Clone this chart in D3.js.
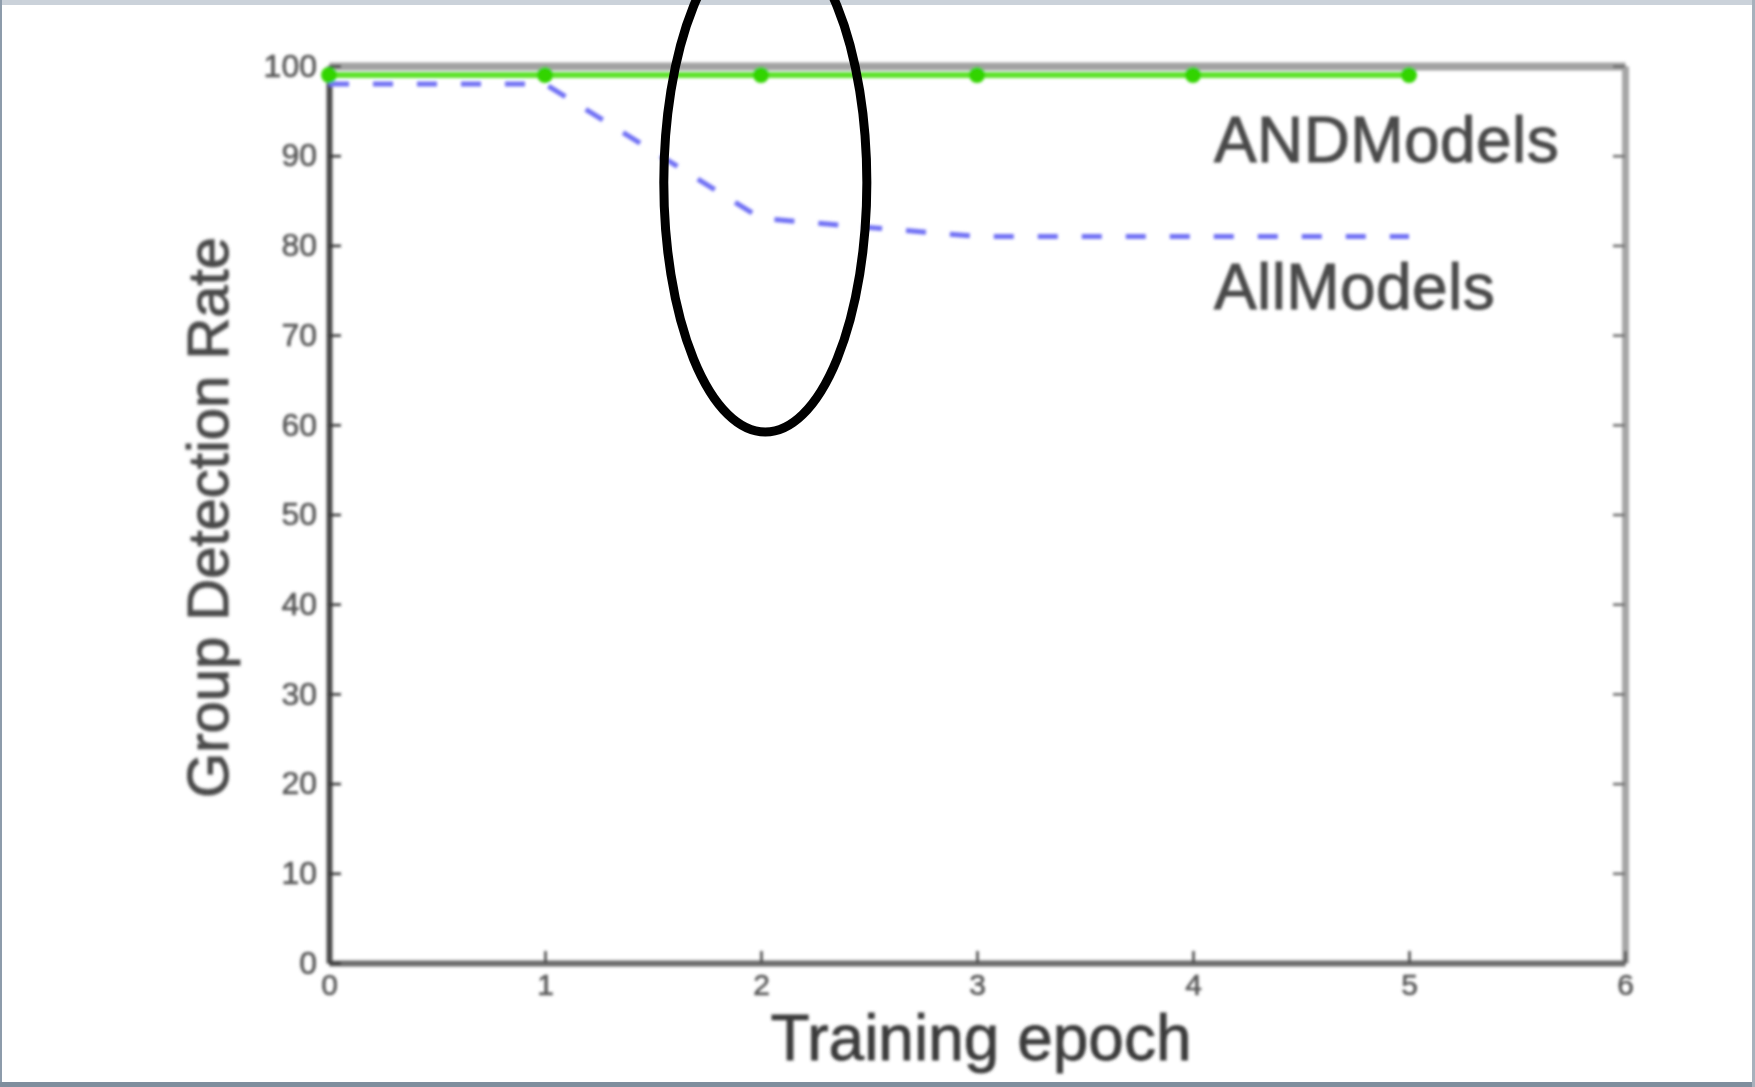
<!DOCTYPE html>
<html>
<head>
<meta charset="utf-8">
<script src="https://cdn.jsdelivr.net/npm/d3@7"></script>
<style>
  html, body { margin: 0; padding: 0; background: #fff; }
  svg { display: block; }
</style>
</head>
<body>
<script>
// epochs on the x axis
const epochs = [0, 1, 2, 3, 4, 5];
// group detection rate per epoch
const andModels = [99, 99, 99, 99, 99, 99];
const allModels = [98, 98, 83, 81, 81, 81];
const xTicks = [0, 1, 2, 3, 4, 5, 6];
const yTicks = [0, 10, 20, 30, 40, 50, 60, 70, 80, 90, 100];
// hand drawn ellipse around epoch 2, in data units
const mark = { cx: 2.02, cy: 87, rx: 0.47, ry: 27.8 };

function main() {
  const width = 1755;
  const height = 1087;
  const margin = { top: 66, right: 130, bottom: 124, left: 329 };

  const x = d3.scaleLinear()
    .domain([0, 6])
    .range([margin.left, width - margin.right]);

  const y = d3.scaleLinear()
    .domain([0, 100])
    .range([height - margin.bottom, margin.top]);

  const svg = d3.create("svg")
    .attr("width", width)
    .attr("height", height)
    .style("font-family", "'Liberation Sans', Arial, sans-serif");

  svg.append("defs").append("filter")
    .attr("id", "soft")
    .attr("x", "-5%").attr("y", "-5%")
    .attr("width", "110%").attr("height", "110%")
    .append("feGaussianBlur")
    .attr("stdDeviation", 1.8);

  // page frame
  svg.append("rect").attr("x", 0).attr("y", 0).attr("width", width).attr("height", 5).attr("fill", "#cbd2da");
  svg.append("rect").attr("x", 0).attr("y", 0).attr("width", 2).attr("height", height).attr("fill", "#8d9cab");
  svg.append("rect").attr("x", 0).attr("y", height - 5).attr("width", width).attr("height", 5).attr("fill", "#7f8e9d");
  svg.append("rect").attr("x", width - 3).attr("y", 0).attr("width", 3).attr("height", height).attr("fill", "#a7b1bc");

  const g = svg.append("g").attr("filter", "url(#soft)");

  // top + right box edges, ticks inward, no labels
  g.append("g")
    .attr("transform", `translate(0,${y(100)})`)
    .call(d3.axisTop(x).tickValues(xTicks).tickSizeInner(-12).tickSizeOuter(0).tickFormat(""))
    .call(a => a.select(".domain").attr("stroke", "#a2a2a2").attr("stroke-width", 8))
    .call(a => a.selectAll(".tick line").attr("stroke", "#888").attr("stroke-width", 2));

  g.append("g")
    .attr("transform", `translate(${x(6)},0)`)
    .call(d3.axisRight(y).tickValues(yTicks).tickSizeInner(-12).tickSizeOuter(0).tickFormat(""))
    .call(a => a.select(".domain").attr("stroke", "#a6a6a6").attr("stroke-width", 7))
    .call(a => a.selectAll(".tick line").attr("stroke", "#666").attr("stroke-width", 2.5));

  // bottom axis
  g.append("g")
    .attr("transform", `translate(0,${y(0)})`)
    .call(d3.axisBottom(x).tickValues(xTicks).tickSizeInner(-12).tickSizeOuter(0).tickPadding(11).tickFormat(d3.format("d")))
    .call(a => a.select(".domain").attr("stroke", "#6a6a6a").attr("stroke-width", 6))
    .call(a => a.selectAll(".tick line").attr("stroke", "#444").attr("stroke-width", 2.5))
    .call(a => a.selectAll(".tick text").attr("fill", "#555").attr("stroke", "#555").attr("stroke-width", 0.6)
      .attr("font-size", 30).attr("font-family", null));

  // left axis
  g.append("g")
    .attr("transform", `translate(${x(0)},0)`)
    .call(d3.axisLeft(y).tickValues(yTicks).tickSizeInner(-12).tickSizeOuter(0).tickPadding(12).tickFormat(d3.format("d")))
    .call(a => a.select(".domain").attr("stroke", "#4a4a4a").attr("stroke-width", 6))
    .call(a => a.selectAll(".tick line").attr("stroke", "#333").attr("stroke-width", 2.5))
    .call(a => a.selectAll(".tick text").attr("fill", "#555").attr("stroke", "#555").attr("stroke-width", 0.6)
      .attr("font-size", 32).attr("font-family", null));

  const line = d3.line()
    .x(d => x(d[0]))
    .y(d => y(d[1]));

  // AllModels, blue dashed
  g.append("path")
    .attr("d", line(d3.zip(epochs, allModels)))
    .attr("fill", "none")
    .attr("stroke", "#7070f4")
    .attr("stroke-width", 5)
    .attr("stroke-dasharray", "20 24");

  // ANDModels, green with dots
  g.append("path")
    .attr("d", line(d3.zip(epochs, andModels)))
    .attr("fill", "none")
    .attr("stroke", "#5fe22a")
    .attr("stroke-width", 6);

  g.append("g")
    .attr("fill", "#33d400")
    .selectAll("circle")
    .data(d3.zip(epochs, andModels))
    .join("circle")
    .attr("cx", d => x(d[0]))
    .attr("cy", d => y(d[1]))
    .attr("r", 8);

  // series labels
  g.append("text")
    .attr("x", 1214)
    .attr("y", 162)
    .attr("font-size", 64)
    .attr("fill", "#4a4a4a")
    .attr("stroke", "#4a4a4a")
    .attr("stroke-width", 1)
    .attr("letter-spacing", 0.4)
    .text("ANDModels");

  g.append("text")
    .attr("x", 1214)
    .attr("y", 309)
    .attr("font-size", 64)
    .attr("fill", "#4a4a4a")
    .attr("stroke", "#4a4a4a")
    .attr("stroke-width", 1)
    .attr("letter-spacing", 0.4)
    .text("AllModels");

  // axis titles
  g.append("text")
    .attr("x", (x(0) + x(6)) / 2 + 4)
    .attr("y", 1060)
    .attr("text-anchor", "middle")
    .attr("font-size", 64)
    .attr("fill", "#3a3a3a")
    .attr("stroke", "#3a3a3a")
    .attr("stroke-width", 0.8)
    .text("Training epoch");

  g.append("text")
    .attr("transform", `translate(228,${(y(0) + y(100)) / 2 + 3}) rotate(-90)`)
    .attr("text-anchor", "middle")
    .attr("font-size", 58)
    .attr("fill", "#4a4a4a")
    .attr("stroke", "#4a4a4a")
    .attr("stroke-width", 1)
    .text("Group Detection Rate");

  // annotation ellipse
  svg.append("ellipse")
    .attr("cx", x(mark.cx))
    .attr("cy", y(mark.cy))
    .attr("rx", x(mark.rx) - x(0))
    .attr("ry", y(0) - y(mark.ry))
    .attr("fill", "none")
    .attr("stroke", "#000")
    .attr("stroke-width", 9);

  document.body.appendChild(svg.node());
}

main();
</script>
</body>
</html>
